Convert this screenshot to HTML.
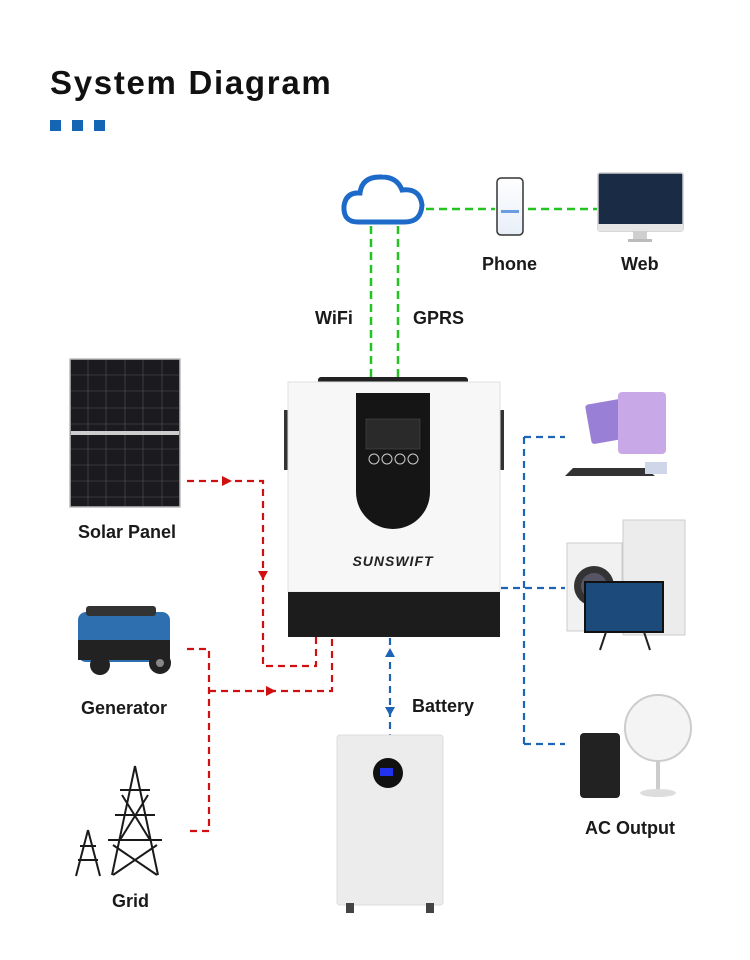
<!DOCTYPE html>
<html><head><meta charset="utf-8"><style>
html,body{margin:0;padding:0;background:#fff}
body{width:750px;height:960px;position:relative;overflow:hidden;font-family:"Liberation Sans",sans-serif}
.t{position:absolute;font-weight:bold;color:#1a1a1a;font-size:18px}
</style></head><body>
<div class="t" style="left:50px;top:64px;font-size:33px;color:#111;letter-spacing:1.7px">System Diagram</div>
<div style="position:absolute;left:50px;top:120px;width:11px;height:11px;background:#1565b5"></div>
<div style="position:absolute;left:72px;top:120px;width:11px;height:11px;background:#1565b5"></div>
<div style="position:absolute;left:94px;top:120px;width:11px;height:11px;background:#1565b5"></div>

<svg width="750" height="960" style="position:absolute;left:0;top:0">
<defs>
<linearGradient id="ph" x1="0" y1="0" x2="0" y2="1"><stop offset="0" stop-color="#fff"/><stop offset="1" stop-color="#e8eef8"/></linearGradient>
</defs>
<g stroke="#22c322" stroke-width="2.5" stroke-dasharray="8,5" fill="none">
<path d="M371 226V378M398 226V378M426 209H495M528 209H597"/>
</g>
<path d="M358 222 Q343 222 344 206 Q346 192 360 193 Q362 176 382 177 Q397 177 402 190 Q420 188 422 205 Q421 222 405 222 Z" fill="#fff" stroke="#1e6ac8" stroke-width="5"/>
<rect x="497" y="178" width="26" height="57" rx="4" fill="url(#ph)" stroke="#333" stroke-width="1.5"/>
<rect x="501" y="210" width="18" height="3" fill="#6b9be0"/>
<rect x="598" y="173" width="85" height="58" rx="2" fill="#1a2b45" stroke="#ccc" stroke-width="1.5"/>
<rect x="598" y="224" width="85" height="7" fill="#e5e5e5"/>
<rect x="633" y="231" width="14" height="8" fill="#cfcfcf"/>
<rect x="628" y="239" width="24" height="3" fill="#bbb"/>

<rect x="70" y="359" width="110" height="148" fill="#1b1b1f" stroke="#bbb" stroke-width="1.5"/>
<g stroke="#555" stroke-width="0.6">
<path d="M88 360V506M106 360V506M125 360V506M143 360V506M162 360V506"/>
<path d="M71 375H179M71 391H179M71 408H179M71 424H179M71 449H179M71 465H179M71 481H179M71 497H179"/>
</g>
<rect x="71" y="431" width="108" height="4" fill="#ccc"/>

<rect x="78" y="612" width="92" height="50" rx="8" fill="#2e6fb0"/>
<rect x="78" y="640" width="92" height="20" fill="#222"/>
<rect x="86" y="606" width="70" height="10" rx="3" fill="#333"/>
<circle cx="100" cy="665" r="10" fill="#222"/><circle cx="160" cy="663" r="11" fill="#222"/>
<circle cx="160" cy="663" r="4" fill="#888"/>

<g stroke="#1a1a1a" stroke-width="2" fill="none">
<path d="M135 766 L112 875 M135 766 L158 875 M120 790H150M115 815H155M108 840H162 M122 795L150 840M148 795L120 840M113 845L157 875M157 845L113 875"/>
<path d="M88 830L76 876M88 830L100 876M80 846H96M78 860H98"/>
</g>

<rect x="318" y="377" width="150" height="10" rx="3" fill="#222"/>
<rect x="284" y="410" width="8" height="60" fill="#333"/>
<rect x="496" y="410" width="8" height="60" fill="#333"/>
<rect x="288" y="382" width="212" height="210" fill="#f7f7f7" stroke="#e0e0e0"/>
<rect x="288" y="592" width="212" height="45" fill="#1c1c1c"/>
<path d="M356 393 H430 V492 A37 37 0 0 1 356 492 Z" fill="#151515"/>
<rect x="366" y="419" width="54" height="30" fill="#2a2a2a" stroke="#555" stroke-width="0.5"/>
<g fill="none" stroke="#ccc" stroke-width="1"><circle cx="374" cy="459" r="5"/><circle cx="387" cy="459" r="5"/><circle cx="400" cy="459" r="5"/><circle cx="413" cy="459" r="5"/></g>
<text x="393" y="566" text-anchor="middle" font-family="Liberation Sans" font-weight="bold" font-style="italic" font-size="14" fill="#222" letter-spacing="1">SUNSWIFT</text>

<g stroke="#d01010" stroke-width="2.2" stroke-dasharray="7,5" fill="none">
<path d="M187 481H263V666H316V637"/>
<path d="M187 649H209V831H189"/>
<path d="M209 691H332V637"/>
</g>
<g fill="#d01010">
<path d="M222 476L232 481L222 486Z"/>
<path d="M258 571L263 580L268 571Z"/>
<path d="M266 686L276 691L266 696Z"/>
</g>

<g stroke="#1e64b4" stroke-width="2.2" stroke-dasharray="7,5" fill="none">
<path d="M390 638V735"/>
<path d="M501 588H565M524 437V744M524 437H565M524 744H565"/>
</g>
<g fill="#1e64b4">
<path d="M385 657L390 648L395 657Z"/>
<path d="M385 707L390 716L395 707Z"/>
</g>

<rect x="337" y="735" width="106" height="170" rx="3" fill="#ececec" stroke="#ddd"/>
<circle cx="388" cy="773" r="15" fill="#111"/>
<rect x="380" y="768" width="13" height="8" fill="#2233ee"/>
<rect x="346" y="903" width="8" height="10" fill="#444"/><rect x="426" y="903" width="8" height="10" fill="#444"/>

<rect x="588" y="400" width="55" height="40" rx="3" fill="#9a7fd6" transform="rotate(-10 615 420)"/>
<rect x="618" y="392" width="48" height="62" rx="4" fill="#c8a8e6"/>
<path d="M573 468 L645 468 L655 476 L565 476Z" fill="#333"/>
<rect x="645" y="462" width="22" height="12" fill="#cfd6ea"/>
<rect x="623" y="520" width="62" height="115" fill="#ececec" stroke="#ccc"/>
<rect x="567" y="543" width="55" height="88" fill="#f1f1f1" stroke="#ccc"/>
<circle cx="594" cy="586" r="20" fill="#333"/><circle cx="594" cy="586" r="13" fill="#556"/>
<rect x="585" y="582" width="78" height="50" fill="#1c4a7a" stroke="#111" stroke-width="2"/>
<path d="M600 650L606 632M650 650L644 632" stroke="#222" stroke-width="2"/>
<rect x="580" y="733" width="40" height="65" rx="4" fill="#222"/>
<circle cx="658" cy="728" r="33" fill="#f4f4f4" stroke="#ccc" stroke-width="2"/>
<path d="M658 761V790" stroke="#ccc" stroke-width="4"/>
<ellipse cx="658" cy="793" rx="18" ry="4" fill="#ddd"/>
</svg>

<div class="t" style="left:315px;top:308px">WiFi</div>
<div class="t" style="left:413px;top:308px">GPRS</div>
<div class="t" style="left:482px;top:254px">Phone</div>
<div class="t" style="left:621px;top:254px">Web</div>
<div class="t" style="left:78px;top:522px">Solar Panel</div>
<div class="t" style="left:81px;top:698px">Generator</div>
<div class="t" style="left:112px;top:891px">Grid</div>
<div class="t" style="left:412px;top:696px">Battery</div>
<div class="t" style="left:585px;top:818px">AC Output</div>
</body></html>
